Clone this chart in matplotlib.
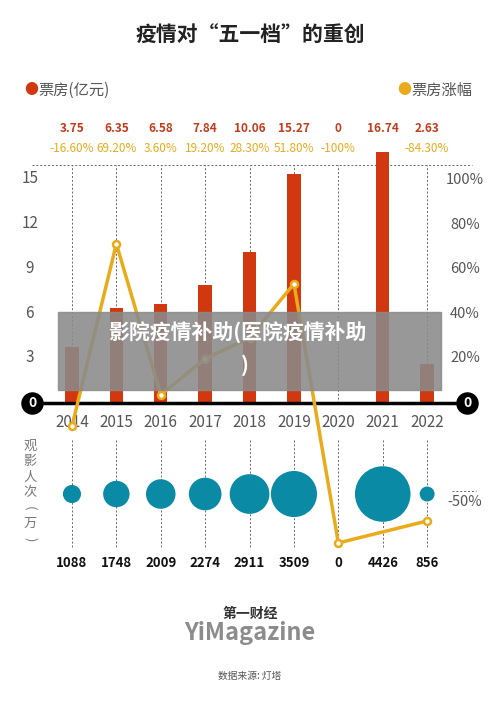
import matplotlib
matplotlib.use('Agg')
import matplotlib.pyplot as plt
import numpy as np

plt.rcParams['font.family'] = ['Noto Sans CJK SC', 'DejaVu Sans']

years = ['2014', '2015', '2016', '2017', '2018', '2019', '2020', '2021', '2022']
box_office = [3.75, 6.35, 6.58, 7.84, 10.06, 15.27, 0, 16.74, 2.63]
growth = [-16.6, 69.2, 3.6, 19.2, 28.3, 51.8, -100, None, -84.3]
growth_labels = ['-16.60%', '69.20%', '3.60%', '19.20%', '28.30%', '51.80%', '-100%', '', '-84.30%']
attendance = [1088, 1748, 2009, 2274, 2911, 3509, 0, 4426, 856]
left_ticks = [3, 6, 9, 12, 15]
right_ticks = [20, 40, 60, 80, 100]

RED = '#d2380f'
ORANGE = '#e9ab1c'
TEAL = '#0a8aa5'
GREY = '#555555'

fig = plt.figure(figsize=(5, 7.06), dpi=100)
W, H = 500, 706

def fx(px):
    return px / W
def fy(py):
    return 1 - py / H

ax = fig.add_axes([0.08, fy(560), 0.84, (560 - 150) / H])
x = np.arange(len(years))
ax.set_xlim(-0.72, 8.74)
ax.set_ylim(-10.47, 16.87)
for s in ax.spines.values():
    s.set_visible(False)
ax.set_xticks([]); ax.set_yticks([])
ax.patch.set_alpha(0)

ax.bar(x, box_office, width=0.3, color=RED, zorder=2)
for xi in x:
    ax.plot([xi, xi], [0, 15.9], ls=(0, (2, 2)), color='#666666', lw=0.7, zorder=1)
    ax.plot([xi, xi], [-2.5, -9.6], ls=(0, (2, 2)), color='#666666', lw=0.7, zorder=1)
ax.plot([-0.9, 9], [15.9, 15.9], ls=(0, (2, 2)), color='#666666', lw=0.7, zorder=1, clip_on=False)
ax.plot([-0.72, 8.74], [0, 0], color='black', lw=2.5, zorder=3)
for xe in [-0.9, 8.9]:
    ax.scatter([xe], [0], s=230, color='black', zorder=4, clip_on=False)
    ax.text(xe, 0, '0', color='white', ha='center', va='center', fontsize=10,
            fontweight='bold', zorder=5, clip_on=False)

for t in left_ticks:
    ax.text(-0.95, t, str(t), ha='center', va='center', fontsize=11, color=GREY, clip_on=False)
for xi, y in zip(x, years):
    ax.text(xi, -1.3, y, ha='center', va='center', fontsize=11, color=GREY)

bx = [xi for xi, a in zip(x, attendance) if a > 0]
ba = np.array([a for a in attendance if a > 0], dtype=float)
ax.scatter(bx, [-6.07] * len(bx), s=1600 * (ba / ba.max()) ** 1.6, color=TEAL, zorder=3, linewidths=0)
for xi, a in zip(x, attendance):
    ax.text(xi, -10.65, str(a), ha='center', va='center', fontsize=9.5, fontweight='bold',
            color='#111111', clip_on=False)
ax.text(8.85, -6.6, '-50%', ha='center', va='center', fontsize=10.5, color=GREY, clip_on=False)
ax.plot([8.55, 9.1], [-5.9, -5.9], ls=(0, (2, 2)), color='#666666', lw=0.7, clip_on=False)

ax2 = ax.twinx()
def fwd(p):
    p = np.asarray(p, dtype=float)
    return np.where(p >= 0, p * 2.3 / 15, p * 1.4 / 15)
def inv(v):
    v = np.asarray(v, dtype=float)
    return np.where(v >= 0, v * 15 / 2.3, v * 15 / 1.4)
ax2.set_yscale('function', functions=(fwd, inv))
ax2.set_ylim(-112.2, 110)
for s in ax2.spines.values():
    s.set_visible(False)
ax2.set_yticks([]); ax2.set_xticks([])
gx = [xi for xi, g in zip(x, growth) if g is not None]
gy = [g for g in growth if g is not None]
ax2.plot(gx, gy, color=ORANGE, lw=2.5, marker='o', ms=5, mfc='white', mec=ORANGE, mew=1.8, zorder=6)
for t in right_ticks:
    ax2.text(8.85, t * 0.97, f'{t}%', ha='center', va='center', fontsize=10.5, color=GREY, clip_on=False)

fig.patches.append(plt.Rectangle((fx(58), fy(390)), fx(441 - 58), (390 - 312) / H,
                                 transform=fig.transFigure, color='#8a8a8a', alpha=0.88, zorder=10))
fig.text(fx(237), fy(333), '影院疫情补助(医院疫情补助', ha='center', va='center', fontsize=15,
         color='white', fontweight='bold', zorder=11)
fig.text(fx(245), fy(365), ')', ha='center', va='center', fontsize=15, color='white',
         fontweight='bold', zorder=11)

fig.text(0.5, fy(35), '疫情对“五一档”的重创', ha='center', va='center', fontsize=15, fontweight='bold', color='#222222')
fig.text(fx(24), fy(90), '●', ha='left', va='center', fontsize=10, color=RED)
fig.text(fx(38), fy(90), '票房(亿元)', ha='left', va='center', fontsize=11, color=GREY)
fig.text(fx(397), fy(90), '●', ha='left', va='center', fontsize=10, color=ORANGE)
fig.text(fx(411), fy(90), '票房涨幅', ha='left', va='center', fontsize=11, color=GREY)
for xi, b, g in zip(x, box_office, growth_labels):
    px = 72 + xi * (427 - 72) / 8
    fig.text(fx(px), fy(128), f'{b:g}', ha='center', va='center', fontsize=8.5,
             fontweight='bold', color='#c33a1c')
    fig.text(fx(px), fy(148), g, ha='center', va='center', fontsize=8.5, color=ORANGE)

for i, ch in enumerate(['观', '影', '人', '次', '(', '万', ')']):
    fig.text(fx(30), fy(446 + i * 15.5), ch, ha='center', va='center', fontsize=9.5, color='#777777',
             rotation=0 if ch not in '()' else -90)

fig.text(0.5, fy(614), '第一财经', ha='center', va='center', fontsize=10, fontweight='bold', color='#333333')
fig.text(0.5, fy(633), 'YiMagazine', ha='center', va='center', fontsize=17, fontweight='bold', color='#8c8c8c')
fig.text(0.5, fy(676), '数据来源: 灯塔', ha='center', va='center', fontsize=7, color='#555555')

fig.savefig('out.png', dpi=100)
